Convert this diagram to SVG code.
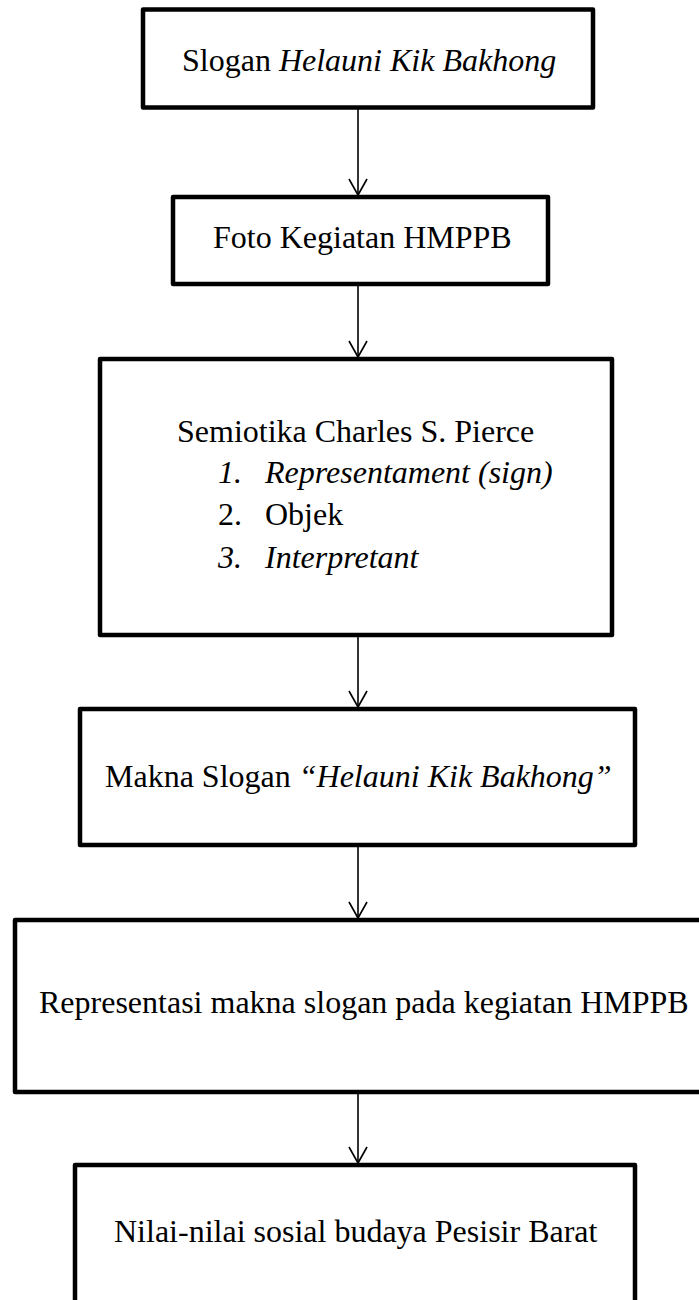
<svg xmlns="http://www.w3.org/2000/svg" width="699" height="1300" viewBox="0 0 699 1300">
  <style>
    .box { fill: #ffffff; stroke: #000000; stroke-width: 4.5; stroke-linejoin: round; }
    .t { font-family: "Liberation Serif", "Times New Roman", serif; font-size: 32px; fill: #000000; }
    .i { font-style: italic; }
    .conn { stroke: #000000; stroke-width: 1.6; fill: none; }
  </style>
  <defs>
    <marker id="arr" viewBox="-18 -11 20 22" markerWidth="20" markerHeight="22" refX="0" refY="0" orient="auto" markerUnits="userSpaceOnUse">
      <path d="M-16,-9 L0,0 L-16,9" fill="none" stroke="#000000" stroke-width="1.6"/>
    </marker>
  </defs>
  <rect width="699" height="1300" fill="#ffffff"/>

  <g id="connectors">
    <line class="conn" x1="358" y1="109" x2="358" y2="195" marker-end="url(#arr)"/>
    <line class="conn" x1="358" y1="286" x2="358" y2="357" marker-end="url(#arr)"/>
    <line class="conn" x1="358" y1="637" x2="358" y2="707" marker-end="url(#arr)"/>
    <line class="conn" x1="358" y1="847" x2="358" y2="918" marker-end="url(#arr)"/>
    <line class="conn" x1="358" y1="1094" x2="358" y2="1163" marker-end="url(#arr)"/>
  </g>

  <g id="node-slogan">
    <rect class="box" x="143" y="9.5" width="450" height="98"/>
    <text class="t" x="182" y="71">Slogan <tspan class="i">Helauni Kik Bakhong</tspan></text>
  </g>

  <g id="node-foto">
    <rect class="box" x="173" y="197" width="375" height="87"/>
    <text class="t" x="213" y="248">Foto Kegiatan HMPPB</text>
  </g>

  <g id="node-semiotika">
    <rect class="box" x="100" y="359" width="512" height="276"/>
    <text class="t" x="177" y="442">Semiotika Charles S. Pierce</text>
    <text class="t i" x="218" y="483">1.</text>
    <text class="t i" x="265" y="483">Representament (sign)</text>
    <text class="t" x="218" y="525">2.</text>
    <text class="t" x="265" y="525">Objek</text>
    <text class="t i" x="218" y="568">3.</text>
    <text class="t i" x="265" y="568">Interpretant</text>
  </g>

  <g id="node-makna">
    <rect class="box" x="80" y="709" width="555" height="136"/>
    <text class="t" x="105" y="787">Makna Slogan <tspan class="i">“Helauni Kik Bakhong”</tspan></text>
  </g>

  <g id="node-representasi">
    <rect class="box" x="15" y="920" width="690" height="172"/>
    <text class="t" x="39" y="1013">Representasi makna slogan pada kegiatan HMPPB</text>
  </g>

  <g id="node-nilai">
    <rect class="box" x="75" y="1165" width="560" height="160"/>
    <text class="t" x="114" y="1242">Nilai-nilai sosial budaya Pesisir Barat</text>
  </g>
</svg>
